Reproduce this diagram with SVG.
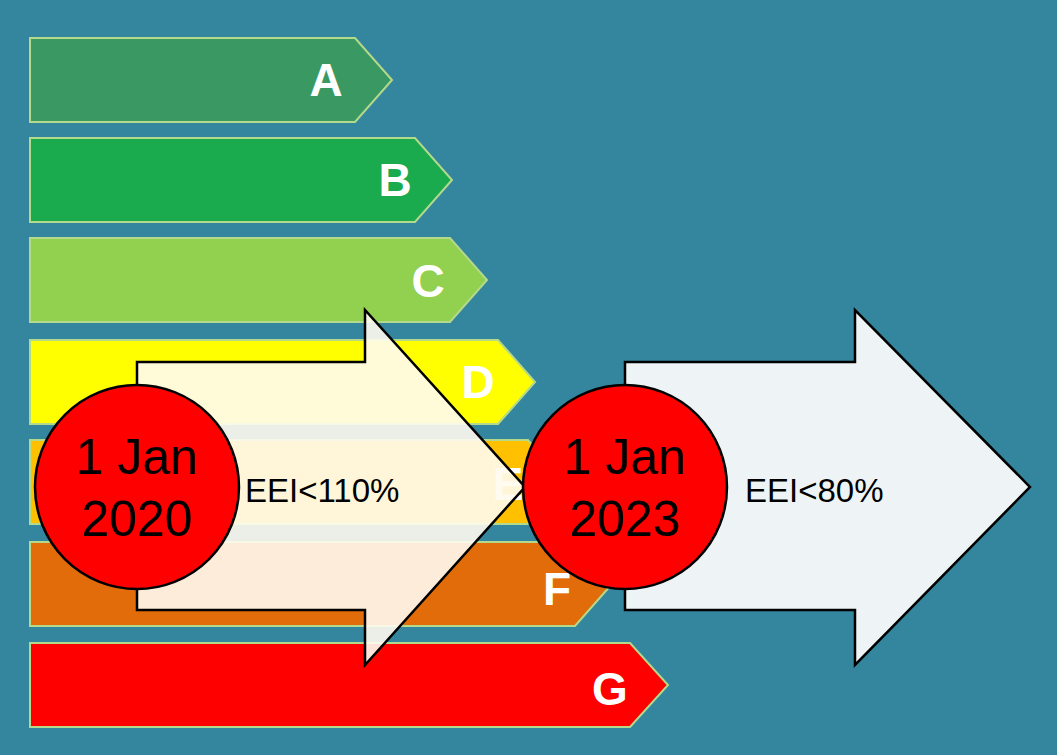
<svg xmlns="http://www.w3.org/2000/svg" width="1057" height="755" viewBox="0 0 1057 755">
<style>
.bar{stroke:#b5d98a;stroke-width:2}
.lt{font-family:"Liberation Sans",Arial,sans-serif;font-weight:bold;font-size:46px;fill:#fff;text-anchor:middle}
.arr{stroke:#000;stroke-width:2.5}
.circ{fill:#ff0000;stroke:#000;stroke-width:2.5}
.dt{font-family:"Liberation Sans",Arial,sans-serif;font-size:50px;fill:#000;text-anchor:middle}
.et{font-family:"Liberation Sans",Arial,sans-serif;font-size:33px;fill:#000}
</style>
<rect width="1057" height="755" fill="#33869e"/>
<g id="barA"><path class="bar" d="M30 38H355L392 80L355 122H30Z" fill="#3a9962"/><text class="lt" x="326" y="96">A</text></g>
<g id="barB"><path class="bar" d="M30 138H415L452 180L415 222H30Z" fill="#1aab4f"/><text class="lt" x="395" y="196">B</text></g>
<g id="barC"><path class="bar" d="M30 238H450L487 280L450 322H30Z" fill="#92d050"/><text class="lt" x="428" y="297">C</text></g>
<g id="barD"><path class="bar" d="M30 340H498L535 382L498 424H30Z" fill="#ffff00"/><text class="lt" x="478" y="398">D</text></g>
<g id="barE"><path class="bar" d="M30 440H528L565 482L528 524H30Z" fill="#ffc000"/><text class="lt" x="508" y="500">E</text></g>
<g id="barF"><path class="bar" d="M30 542H575L612 584L575 626H30Z" fill="#e36c0a"/><text class="lt" x="557" y="605">F</text></g>
<g id="barG"><path class="bar" d="M30 643H630L668 685L630 727H30Z" fill="#ff0000"/><text class="lt" x="610" y="705">G</text></g>
<g id="arrow2020"><path class="arr" d="M137 362H365V310L525 487L365 665V610H137Z" fill="#fffbf0" fill-opacity="0.9"/></g>
<g id="arrow2023"><path class="arr" d="M625 362H855V310L1030 487L855 665V610H625Z" fill="#eef4f6"/></g>
<g id="c2020"><circle class="circ" cx="137" cy="487" r="102"/><text class="dt" x="137" y="474">1 Jan</text><text class="dt" x="137" y="536">2020</text></g>
<g id="c2023"><circle class="circ" cx="625" cy="487" r="102"/><text class="dt" x="625" y="474">1 Jan</text><text class="dt" x="625" y="536">2023</text></g>
<g id="labels"><text class="et" x="245" y="502">EEI&lt;110%</text><text class="et" x="745" y="502">EEI&lt;80%</text></g>
</svg>
